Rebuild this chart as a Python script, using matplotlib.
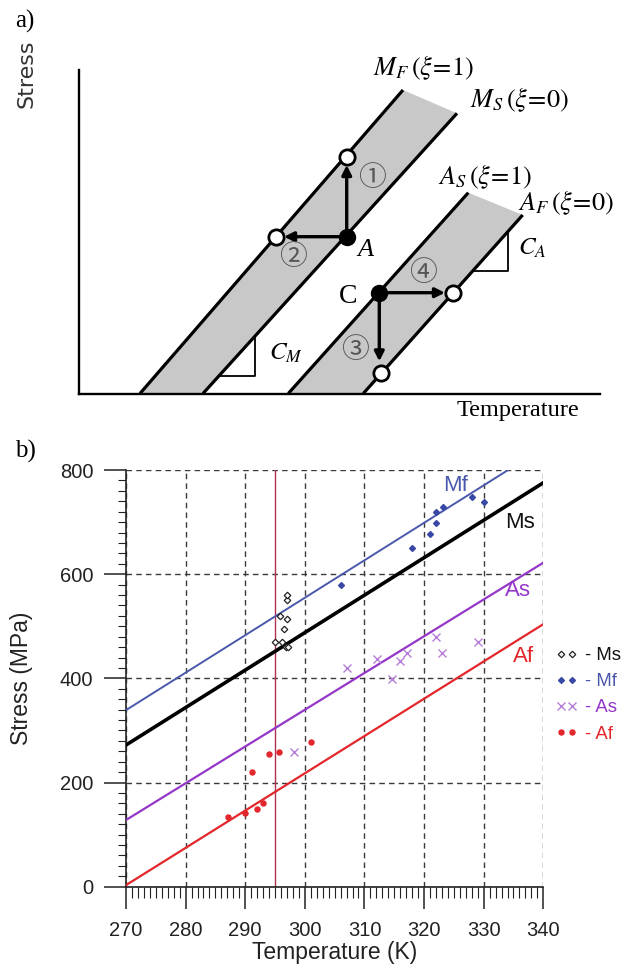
import numpy as np
import matplotlib
matplotlib.use("Agg")
import matplotlib.pyplot as plt
from matplotlib.ticker import MultipleLocator

plt.rcParams["mathtext.fontset"] = "stix"

# ---------------- panel a: schematic phase diagram (arbitrary units) ----------------
# band boundary lines: (temperature, stress) at both ends
mf_a_x = [60.7, 323.7]
mf_a_y = [0.0, 303.5]
ms_a_x = [123.7, 377.7]
ms_a_y = [0.0, 280.2]
as_a_x = [209.0, 389.0]
as_a_y = [0.0, 200.8]
af_a_x = [284.0, 443.4]
af_a_y = [0.0, 178.5]

pt_A = (267.4, 156.8)
pt_C = (300.0, 100.8)
circ_1 = (267.4, 236.8)
circ_2 = (196.4, 156.8)
circ_3 = (302.0, 21.0)
circ_4 = (374.0, 100.8)

tri_m_corner = (175.7, 17.5)
tri_a_corner = (428.5, 122.5)

# ---------------- panel b: measured transformation stresses ----------------
x_ticks = [270, 280, 290, 300, 310, 320, 330, 340]
y_ticks = [0, 200, 400, 600, 800]

mf_fit_t = [270, 334.1]
mf_fit_s = [339, 800]
ms_fit_t = [270, 340]
ms_fit_s = [272, 775.5]
as_fit_t = [270, 340]
as_fit_s = [128, 622]
af_fit_t = [270, 340]
af_fit_s = [3, 504]

ms_t = [295.0, 296.1, 296.8, 297.1, 296.5, 295.9, 297.0, 297.0, 297.0]
ms_s = [470, 469, 460, 460, 494, 520, 514, 550, 560]
mf_t = [306.0, 318.0, 321.0, 322.0, 322.0, 323.1, 328.0, 330.0]
mf_s = [579, 650, 678, 699, 720, 729, 749, 739]
as_t = [298.1, 307.0, 312.1, 314.6, 316.0, 317.1, 322.0, 323.0, 329.1]
as_s = [259, 419, 438, 399, 434, 449, 479, 449, 469]
af_t = [287.1, 290.0, 291.1, 292.0, 293.0, 294.0, 295.6, 301.0]
af_s = [134, 141, 220, 150, 160, 255, 259, 278]

room_temp = 295

c_mf = "#4a58ac"
c_ms = "black"
c_as = "#9437c8"
c_af = "#e3262b"

fig = plt.figure(figsize=(6.23, 9.64), dpi=100)

# ================= panel a =================
axa = fig.add_axes([79.3 / 623, 1 - 393.5 / 964, 520.7 / 623, 323.5 / 964])
axa.set_xlim(0, 520.7)
axa.set_ylim(0, 323.5)
axa.set_xticks([])
axa.set_yticks([])
for side in ("top", "right"):
    axa.spines[side].set_visible(False)
for side in ("left", "bottom"):
    axa.spines[side].set_linewidth(1.7)

band_grey = "#c8c8c8"
for (lx, ly), (rx, ry) in [((mf_a_x, mf_a_y), (ms_a_x, ms_a_y)),
                           ((as_a_x, as_a_y), (af_a_x, af_a_y))]:
    axa.fill(lx + rx[::-1], ly + ry[::-1], color=band_grey, lw=0, zorder=1)
    axa.plot(lx, ly, color="k", lw=2.3, solid_capstyle="butt", zorder=2)
    axa.plot(rx, ry, color="k", lw=2.3, solid_capstyle="butt", zorder=2)

# slope triangles
for corner, (lx, ly) in [(tri_m_corner, (ms_a_x, ms_a_y)),
                         (tri_a_corner, (af_a_x, af_a_y))]:
    x_left = np.interp(corner[1], ly, lx)
    y_top = np.interp(corner[0], lx, ly)
    axa.plot([x_left, corner[0], corner[0]], [corner[1], corner[1], y_top],
             color="k", lw=1.3, zorder=2)

arrow_kw = dict(arrowstyle="-|>", lw=2.4, color="k", mutation_scale=14,
                shrinkA=0, shrinkB=6)
axa.annotate("", xy=circ_1, xytext=pt_A, arrowprops=arrow_kw, zorder=3)
axa.annotate("", xy=circ_2, xytext=pt_A, arrowprops=arrow_kw, zorder=3)
axa.annotate("", xy=circ_4, xytext=pt_C, arrowprops=arrow_kw, zorder=3)
axa.annotate("", xy=(pt_C[0], circ_3[1]), xytext=pt_C,
             arrowprops=dict(arrow_kw, shrinkB=8), zorder=3)

for p in (pt_A, pt_C):
    axa.plot(*p, "o", ms=11.5, color="k", zorder=5)
for p in (circ_1, circ_2, circ_3, circ_4):
    axa.plot(*p, "o", ms=11, mfc="white", mec="k", mew=2, zorder=5)

serif = "Liberation Serif"
axa.text(285.7, 143.5, "A", fontsize=19, family=serif, style="italic",
         ha="center", va="center")
axa.text(269.0, 96.8, "C", fontsize=20, family=serif, ha="center", va="center")

circ_font = ["Noto Sans CJK JP", "DejaVu Sans"]
for label, pos in [("①", (292.4, 215.2)), ("②", (214.0, 136.8)),
                   ("③", (275.7, 43.5)), ("④", (344.0, 120.2))]:
    axa.text(*pos, label, fontsize=20, family=circ_font, color="#555555",
             ha="center", va="center")

axa.text(206.7, 40.5, "$C_M$", fontsize=18, ha="center", va="center")
axa.text(453.2, 145.2, "$C_A$", fontsize=18, ha="center", va="center")

top_labels = [(r"$M_F\,(\xi\!=\!1)$", (293.7, 325.5)),
              (r"$M_S\,(\xi\!=\!0)$", (390.7, 293.5)),
              (r"$A_S\,(\xi\!=\!1)$", (358.7, 216.5)),
              (r"$A_F\,(\xi\!=\!0)$", (438.7, 190.5))]
for label, pos in top_labels:
    axa.text(*pos, label, fontsize=19, ha="left", va="center", clip_on=False)

fig.text(26 / 623, 1 - 74 / 964, "Stress", fontsize=16, family="DejaVu Sans",
         rotation=90, ha="center", va="center", color="#333333")
fig.text(517.5 / 623, 1 - 416 / 964, "Temperature", fontsize=17.5, family=serif,
         ha="center", va="baseline")
fig.text(25 / 623, 1 - 21 / 964, "a)", fontsize=18, family=serif,
         ha="center", va="center")
fig.text(25 / 623, 1 - 451 / 964, "b)", fontsize=18, family=serif,
         ha="center", va="center")

# ================= panel b =================
sans = "Liberation Sans"
ax = fig.add_axes([126 / 623, 1 - 886.7 / 964, 417.3 / 623, 416.7 / 964])
ax.set_xlim(270, 340)
ax.set_ylim(0, 800)
ax.set_xticks(x_ticks)
ax.set_yticks(y_ticks)
ax.xaxis.set_minor_locator(MultipleLocator(1))
ax.yaxis.set_minor_locator(MultipleLocator(20))
for side in ("top", "right"):
    ax.spines[side].set_visible(False)
for side in ("left", "bottom"):
    ax.spines[side].set_linewidth(1.2)
    ax.spines[side].set_color("#222222")

ax.tick_params(which="major", direction="out", length=15.5, width=1.1,
               labelsize=14.5, colors="#222222")
ax.tick_params(axis="x", which="major", pad=9.5)
ax.tick_params(axis="y", which="major", pad=8)
ax.tick_params(axis="x", which="minor", direction="out", length=8, width=0.8,
               colors="#222222")
ax.tick_params(axis="y", which="minor", direction="out", length=5.5, width=0.8,
               colors="#222222")
for lab in ax.get_xticklabels() + ax.get_yticklabels():
    lab.set_family(sans)

ax.set_axisbelow(True)
ax.grid(which="major", color="#3a3a3a", ls=(0, (4, 3)), lw=1.0)

ax.axvline(room_temp, color="#b0304f", lw=1.0, zorder=2)

ax.plot(mf_fit_t, mf_fit_s, color=c_mf, lw=1.4, zorder=3)
ax.plot(ms_fit_t, ms_fit_s, color=c_ms, lw=2.6, zorder=3)
ax.plot(as_fit_t, as_fit_s, color=c_as, lw=1.6, zorder=3)
ax.plot(af_fit_t, af_fit_s, color=c_af, lw=1.6, zorder=3)

h_ms, = ax.plot(ms_t, ms_s, "D", ms=3.3, mfc="white", mec="#222222", mew=0.9,
                ls="none", label="- Ms", zorder=4)
h_mf, = ax.plot(mf_t, mf_s, "D", ms=3.0, color="#3848a4", ls="none",
                label="- Mf", zorder=4)
h_as, = ax.plot(as_t, as_s, "x", ms=5.5, color="#b57fd8", mew=1.0, ls="none",
                label="- As", zorder=4)
h_af, = ax.plot(af_t, af_s, "o", ms=3.6, color=c_af, ls="none",
                label="- Af", zorder=4)

line_labels = [("Mf", 325.2, 771, c_mf), ("Ms", 336.1, 700, "#111111"),
               ("As", 335.8, 569.6, c_as), ("Af", 336.6, 441, c_af)]
for text, t, s, col in line_labels:
    ax.text(t, s, text, fontsize=16, family=sans, color=col,
            ha="center", va="center", zorder=5)

ax.set_xlabel("Temperature (K)", fontsize=16.5, family=sans, color="#222222")
ax.set_ylabel("Stress (MPa)", fontsize=16.5, family=sans, color="#222222")
ax.xaxis.set_label_coords(0.5, -0.1296)
ax.yaxis.set_label_coords(-0.222, 0.5)

leg = ax.legend(handles=[h_ms, h_mf, h_as, h_af], loc="upper left",
                bbox_to_anchor=(555.5 / 623, 1 - 647 / 964),
                bbox_transform=fig.transFigure, frameon=False, numpoints=2,
                handlelength=1.2, handletextpad=0.4, labelspacing=0.5,
                borderpad=0, borderaxespad=0, prop={"family": sans, "size": 13.3})
for txt, col in zip(leg.get_texts(), ["#111111", c_mf, c_as, c_af]):
    txt.set_color(col)

fig.savefig("out.png", dpi=100)
